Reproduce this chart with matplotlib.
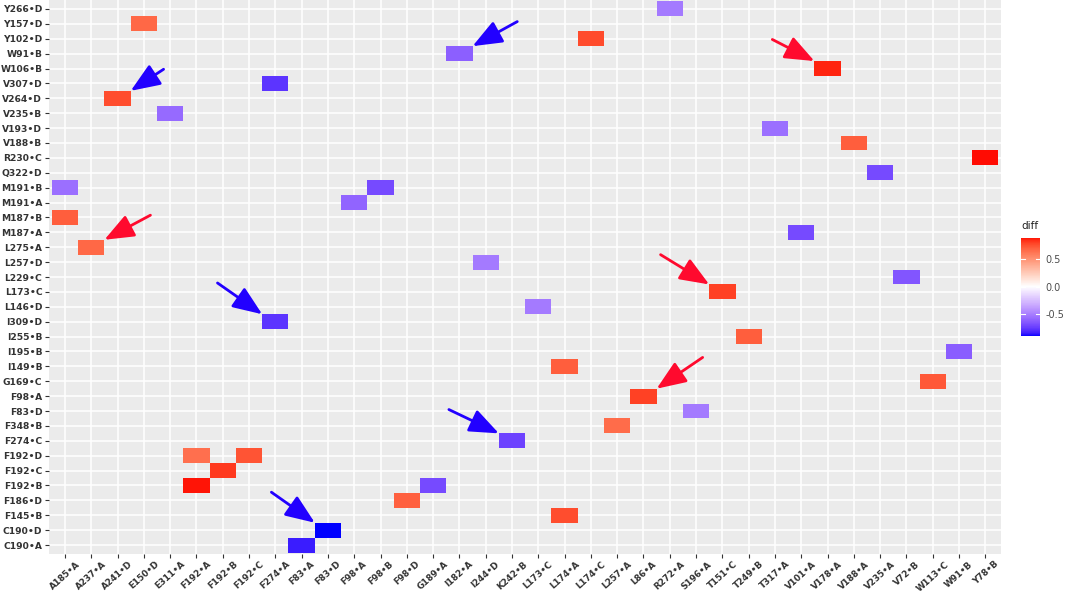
import numpy as np
import matplotlib
matplotlib.use('Agg')
import matplotlib.pyplot as plt
from matplotlib.colors import ListedColormap, Normalize

plt.rcParams['font.family'] = ['DejaVu Sans']

# columns (x) and rows (y, bottom to top)
cols = ['A185•A', 'A237•A', 'A241•D', 'E150•D', 'E311•A', 'F192•A', 'F192•B', 'F192•C',
        'F274•A', 'F83•A', 'F83•D', 'F98•A', 'F98•B', 'F98•D', 'G189•A', 'I182•A',
        'I244•D', 'K242•B', 'L173•C', 'L174•A', 'L174•C', 'L257•A', 'L86•A', 'R272•A',
        'S196•A', 'T151•C', 'T249•B', 'T317•A', 'V101•A', 'V178•A', 'V188•A', 'V235•A',
        'V72•B', 'W113•C', 'W91•B', 'Y78•B']
rows = ['C190•A', 'C190•D', 'F145•B', 'F186•D', 'F192•B', 'F192•C', 'F192•D', 'F274•C',
        'F348•B', 'F83•D', 'F98•A', 'G169•C', 'I149•B', 'I195•B', 'I255•B', 'I309•D',
        'L146•D', 'L173•C', 'L229•C', 'L257•D', 'L275•A', 'M187•A', 'M187•B', 'M191•A',
        'M191•B', 'Q322•D', 'R230•C', 'V188•B', 'V193•D', 'V235•B', 'V264•D', 'V307•D',
        'W106•B', 'W91•B', 'Y102•D', 'Y157•D', 'Y266•D']

# tiles: x label, y label, diff
tile_x = ['R272•A', 'E150•D', 'L174•C', 'I182•A', 'V178•A', 'F274•A', 'A241•D', 'E311•A',
          'T317•A', 'V188•A', 'Y78•B', 'V235•A', 'A185•A', 'F98•B', 'F98•A', 'A185•A',
          'V101•A', 'A237•A', 'I244•D', 'V72•B', 'T151•C', 'L173•C', 'F274•A', 'T249•B',
          'W91•B', 'L174•A', 'W113•C', 'L86•A', 'S196•A', 'L257•A', 'K242•B', 'F192•A',
          'F192•C', 'F192•B', 'F192•A', 'G189•A', 'F98•D', 'L174•A', 'F83•D', 'F83•A']
tile_y = ['Y266•D', 'Y157•D', 'Y102•D', 'W91•B', 'W106•B', 'V307•D', 'V264•D', 'V235•B',
          'V193•D', 'V188•B', 'R230•C', 'Q322•D', 'M191•B', 'M191•B', 'M191•A', 'M187•B',
          'M187•A', 'L275•A', 'L257•D', 'L229•C', 'L173•C', 'L146•D', 'I309•D', 'I255•B',
          'I195•B', 'I149•B', 'G169•C', 'F98•A', 'F83•D', 'F348•B', 'F274•C', 'F192•D',
          'F192•D', 'F192•C', 'F192•B', 'F192•B', 'F186•D', 'F145•B', 'C190•D', 'C190•A']
diff = [-0.52, 0.67, 0.77, -0.62, 0.86, -0.78, 0.76, -0.58,
        -0.56, 0.71, 0.89, -0.70, -0.56, -0.70, -0.60, 0.71,
        -0.70, 0.67, -0.52, -0.66, 0.80, -0.52, -0.78, 0.71,
        -0.63, 0.71, 0.73, 0.80, -0.52, 0.66, -0.73, 0.64,
        0.74, 0.82, 0.88, -0.70, 0.70, 0.76, -0.90, -0.85]

# annotation arrows: target tile, which corner the tip touches, tail offset (cols, rows)
arrows = [
    ('V178•A', 'W106•B', 'left', -2.1, 1.95, '#FF0A2E'),
    ('A237•A', 'L275•A', 'right', 2.25, 2.15, '#FF0A2E'),
    ('T151•C', 'L173•C', 'left', -2.35, 2.5, '#FF0A2E'),
    ('L86•A', 'F98•A', 'right', 2.25, 2.6, '#FF0A2E'),
    ('A241•D', 'V264•D', 'right', 1.75, 1.95, '#2200FF'),
    ('I182•A', 'W91•B', 'right', 2.2, 2.15, '#2200FF'),
    ('F274•A', 'I309•D', 'left', -2.2, 2.6, '#2200FF'),
    ('K242•B', 'F274•C', 'left', -2.4, 2.1, '#2200FF'),
    ('F83•D', 'C190•D', 'left', -2.15, 2.55, '#2200FF'),
]


def lab_to_rgb(L, a, b):
    fy = (L + 16) / 116
    fx = fy + a / 500
    fz = fy - b / 200
    def finv(t):
        return np.where(t > 6 / 29, t ** 3, 3 * (6 / 29) ** 2 * (t - 4 / 29))
    X = 0.95047 * finv(fx)
    Y = finv(fy)
    Z = 1.08883 * finv(fz)
    r = 3.2406 * X - 1.5372 * Y - 0.4986 * Z
    g = -0.9689 * X + 1.8758 * Y + 0.0415 * Z
    bb = 0.0557 * X - 0.2040 * Y + 1.0570 * Z
    out = []
    for c in (r, g, bb):
        c = np.clip(c, 0, 1)
        out.append(np.where(c <= 0.0031308, 12.92 * c, 1.055 * c ** (1 / 2.4) - 0.055))
    return np.clip(np.stack(out, axis=-1), 0, 1)


# blue - white - red, interpolated in Lab like ggplot's gradient2
blue = np.array([32.30, 79.19, -107.86])
white = np.array([100.0, 0.0, 0.0])
red = np.array([53.24, 80.09, 67.20])
t = np.linspace(-1, 1, 256)[:, None]
lab = np.where(t < 0, white + (-t) * (blue - white), white + t * (red - white))
cmap = ListedColormap(lab_to_rgb(lab[:, 0], lab[:, 1], lab[:, 2]))

vals = np.array(diff)
m = np.abs(vals).max()
norm = Normalize(-m, m)

grid = np.full((len(rows), len(cols)), np.nan)
for xl, yl, v in zip(tile_x, tile_y, diff):
    grid[rows.index(yl), cols.index(xl)] = v

fig = plt.figure(figsize=(10.65, 5.91), dpi=100)
ax = fig.add_axes([0.0462, 0.0626, 0.8938, 0.9374])
ax.set_facecolor('#EBEBEB')
for s in ax.spines.values():
    s.set_visible(False)

xe = np.arange(len(cols) + 1) - 0.5
ye = np.arange(len(rows) + 1) - 0.5
mesh = ax.pcolormesh(xe, ye, np.ma.masked_invalid(grid), cmap=cmap, norm=norm, zorder=2)

ax.set_xticks(range(len(cols)))
ax.set_yticks(range(len(rows)))
ax.set_xticklabels(cols, rotation=42, ha='center', va='top',
                   fontsize=6.3, fontweight='bold', color='#333333')
ax.set_yticklabels(rows, fontsize=6.6, fontweight='bold', color='#333333')
ax.tick_params(length=3, width=0.8, color='#333333')
ax.tick_params(axis='x', pad=1)
ax.tick_params(axis='y', pad=2)
ax.grid(True, color='white', lw=1.1, zorder=1)
ax.set_axisbelow(True)
ax.set_xlim(-0.6, len(cols) - 0.4)
ax.set_ylim(-0.6, len(rows) - 0.4)

for xl, yl, side, dx, dy, colr in arrows:
    cx, cy = cols.index(xl), rows.index(yl)
    tip = (cx - 0.5 if side == 'left' else cx + 0.5, cy + 0.5)
    ax.annotate('', xy=tip, xytext=(cx + dx, cy + dy), zorder=4,
                arrowprops=dict(arrowstyle='-|>,head_length=1.0,head_width=0.4',
                                color=colr, lw=2, shrinkA=0, shrinkB=0,
                                mutation_scale=18))

# colorbar legend
cax = fig.add_axes([0.9587, 0.4315, 0.0178, 0.1663])
cb = fig.colorbar(mesh, cax=cax, boundaries=np.linspace(vals.min(), vals.max(), 257))
cb.outline.set_visible(False)
cb.set_ticks([-0.5, 0.0, 0.5])
cb.set_ticklabels(['-0.5', '0.0', '0.5'])
cax.tick_params(length=0, labelsize=7, labelcolor='#4D4D4D', pad=4)
for tv in [-0.5, 0.0, 0.5]:
    cax.plot([0, 0.2], [tv, tv], color='white', lw=0.8, transform=cax.get_yaxis_transform())
    cax.plot([0.8, 1.0], [tv, tv], color='white', lw=0.8, transform=cax.get_yaxis_transform())
fig.text(0.9587, 0.6085, 'diff', fontsize=7.5, color='#222222', va='bottom', ha='left')

fig.savefig('out.png', dpi=100)
